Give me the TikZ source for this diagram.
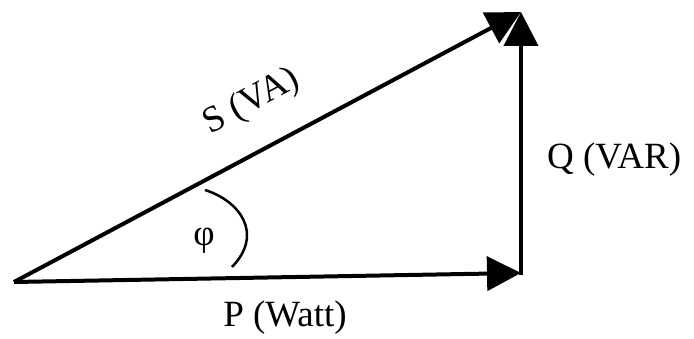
\documentclass[tikz,border=0pt]{standalone}
\usepackage{fontspec}
\setmainfont{Liberation Serif}
\usetikzlibrary{arrows.meta}

\begin{document}
\begin{tikzpicture}[x=1pt, y=1pt, >={Triangle[length=34pt,width=34pt]},
  vec/.style={line width=4pt, ->},
  lbl/.style={font=\fontsize{37}{37}\selectfont, inner sep=0pt}]
  \useasboundingbox (0,0) rectangle (694,338);

  \coordinate (O) at (14,56);
  \coordinate (Pt) at (521,65);
  \coordinate (St) at (521,326);

  \draw[vec] (O) -- (Pt);
  \draw[vec, shorten <=-2pt] (Pt) -- (St);
  \draw[vec] (O) -- (St);

  % angle mark
  \draw[line width=2.5pt] (205,148) .. controls (240,137) and (264,104) .. (232,71);
  \node[lbl] (phi) at (204,97) {φ};

  \node[lbl, rotate=28] (S) at (252,236) {S (VA)};
  \node[lbl, anchor=west] (Q) at (547,178) {Q (VAR)};
  \node[lbl] (P) at (285,20) {P (Watt)};
\end{tikzpicture}
\end{document}
